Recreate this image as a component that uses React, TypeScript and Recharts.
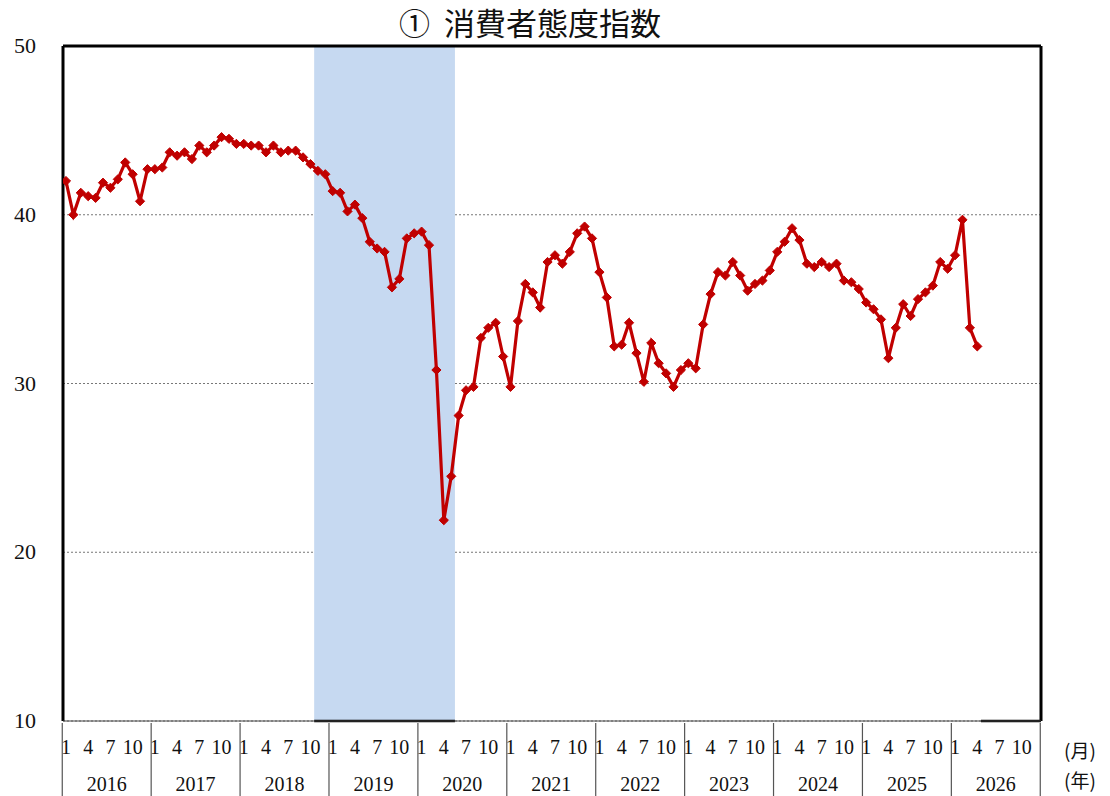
import {
  LineChart, Line, XAxis, YAxis,
  CartesianGrid, ReferenceArea, ReferenceLine,
} from "recharts";

// 消費者態度指数, monthly from Jan 2016
const years = ["2016", "2017", "2018", "2019", "2020", "2021", "2022", "2023", "2024", "2025", "2026"];
const monthLabels = ["1", "", "", "4", "", "", "7", "", "", "10", "", ""];

const v2016 = [42.0, 40.0, 41.3, 41.1, 41.0, 41.9, 41.6, 42.1, 43.1, 42.4, 40.8, 42.7];
const v2017 = [42.7, 42.8, 43.7, 43.5, 43.7, 43.3, 44.1, 43.7, 44.1, 44.6, 44.5, 44.2];
const v2018 = [44.2, 44.1, 44.1, 43.7, 44.1, 43.7, 43.8, 43.8, 43.4, 43.0, 42.6, 42.4];
const v2019 = [41.4, 41.3, 40.2, 40.6, 39.8, 38.4, 38.0, 37.8, 35.7, 36.2, 38.6, 38.9];
const v2020 = [39.0, 38.2, 30.8, 21.9, 24.5, 28.1, 29.6, 29.8, 32.7, 33.3, 33.6, 31.6];
const v2021 = [29.8, 33.7, 35.9, 35.4, 34.5, 37.2, 37.6, 37.1, 37.8, 38.9, 39.3, 38.6];
const v2022 = [36.6, 35.1, 32.2, 32.3, 33.6, 31.8, 30.1, 32.4, 31.2, 30.6, 29.8, 30.8];
const v2023 = [31.2, 30.9, 33.5, 35.3, 36.6, 36.4, 37.2, 36.4, 35.5, 35.9, 36.1, 36.7];
const v2024 = [37.8, 38.4, 39.2, 38.5, 37.1, 36.9, 37.2, 36.9, 37.1, 36.1, 36.0, 35.6];
const v2025 = [34.8, 34.4, 33.8, 31.5, 33.3, 34.7, 34.0, 35.0, 35.4, 35.8, 37.2, 36.8];
const v2026 = [37.6, 39.7, 33.3, 32.2];

// 景気後退期 (shaded): Nov 2018 - May 2020
const recessionStart = 33.5;
const recessionEnd = 52.5;

const values = [...v2016, ...v2017, ...v2018, ...v2019, ...v2020, ...v2021, ...v2022, ...v2023, ...v2024, ...v2025, ...v2026];
const data = values.map((value, i) => ({ idx: i, value }));
const monthTicks = years.flatMap((_, y) => monthLabels.map((_, m) => y * 12 + m));

const X_MIN = -0.4;
const X_MAX = years.length * 12 - 0.4;
const PLOT_W = 978;
const STEP = PLOT_W / (years.length * 12);

const serif = "'Liberation Serif', 'DejaVu Serif', serif";
const jp = "'Noto Sans CJK JP', sans-serif";

const Diamond = (props: any) => {
  const { cx, cy, index } = props;
  const r = 4.6;
  return (
    <polygon
      key={`d-${index}`}
      points={`${cx},${cy - r} ${cx + r},${cy} ${cx},${cy + r} ${cx - r},${cy}`}
      fill="#C00000"
      stroke="#C00000"
    />
  );
};

const MonthTick = (props: any) => {
  const { x, y, payload } = props;
  const i = payload.value as number;
  const m = i % 12;
  const yr = Math.floor(i / 12);
  const label = monthLabels[m];
  return (
    <g>
      {label && (
        <text x={x} y={y + 31} textAnchor="middle" fontFamily={serif} fontSize={20} fill="#111">
          {label}
        </text>
      )}
      {m === 0 && (
        <>
          <line x1={x - STEP / 2} y1={y} x2={x - STEP / 2} y2={y + 80} stroke="#555" strokeWidth={1.2} />
          <text x={x + 5.5 * STEP} y={y + 68} textAnchor="middle" fontFamily={serif} fontSize={20} fill="#111">
            {years[yr]}
          </text>
        </>
      )}
      {i === years.length * 12 - 1 && (
        <line x1={x + STEP / 2} y1={y} x2={x + STEP / 2} y2={y + 80} stroke="#555" strokeWidth={1.2} />
      )}
    </g>
  );
};

const ValueTick = (props: any) => {
  const { y, payload } = props;
  return (
    <text x={36} y={y + 7} textAnchor="end" fontFamily={serif} fontSize={22} fill="#111">
      {payload.value}
    </text>
  );
};

export default function App() {
  return (
    <div style={{ position: "absolute", left: 0, top: 0, width: 1110, height: 796, background: "#fff" }}>
      <div
        style={{
          position: "absolute", left: 330, width: 400, top: 0, textAlign: "center",
          fontFamily: jp, fontSize: 31, lineHeight: "44px", color: "#111", whiteSpace: "pre",
        }}
      >
        {"①  消費者態度指数"}
      </div>
      <div style={{ position: "absolute", left: 1064, top: 736, fontFamily: jp, fontSize: 19, color: "#111" }}>(月)</div>
      <div style={{ position: "absolute", left: 1064, top: 766, fontFamily: jp, fontSize: 19, color: "#111" }}>(年)</div>
      <LineChart
        width={1110}
        height={796}
        data={data}
        margin={{ top: 46, right: 69, bottom: 0, left: 0 }}
      >
        <CartesianGrid horizontal vertical={false} stroke="#777" strokeDasharray="2 2" strokeWidth={1} />
        <ReferenceArea
          x1={recessionStart} x2={recessionEnd} y1={10} y2={50}
          fill="#C6D9F1" fillOpacity={1} stroke="none" ifOverflow="extendDomain"
        />
        <XAxis
          type="number"
          dataKey="idx"
          domain={[X_MIN, X_MAX]}
          ticks={monthTicks}
          interval={0}
          tick={<MonthTick />}
          tickLine={false}
          tickSize={0}
          axisLine={{ stroke: "#444", strokeWidth: 1 }}
          height={75}
          allowDataOverflow
        />
        <YAxis
          type="number"
          domain={[10, 50]}
          ticks={[10, 20, 30, 40, 50]}
          tick={<ValueTick />}
          tickLine={false}
          axisLine={false}
          width={63}
          allowDataOverflow
        />
        <ReferenceLine
          segment={[{ x: recessionStart, y: 10 }, { x: recessionEnd, y: 10 }]}
          stroke="#000" strokeWidth={2.5}
        />
        <ReferenceLine
          segment={[{ x: values.length - 0.5, y: 10 }, { x: X_MAX, y: 10 }]}
          stroke="#000" strokeWidth={2.5}
        />
        <ReferenceLine y={50} stroke="#000" strokeWidth={3} />
        <ReferenceLine x={X_MIN} stroke="#000" strokeWidth={3} />
        <ReferenceLine x={X_MAX} stroke="#000" strokeWidth={3} />
        <Line
          type="linear"
          dataKey="value"
          stroke="#C00000"
          strokeWidth={3.2}
          dot={Diamond}
          activeDot={false}
          isAnimationActive={false}
        />
      </LineChart>
    </div>
  );
}
